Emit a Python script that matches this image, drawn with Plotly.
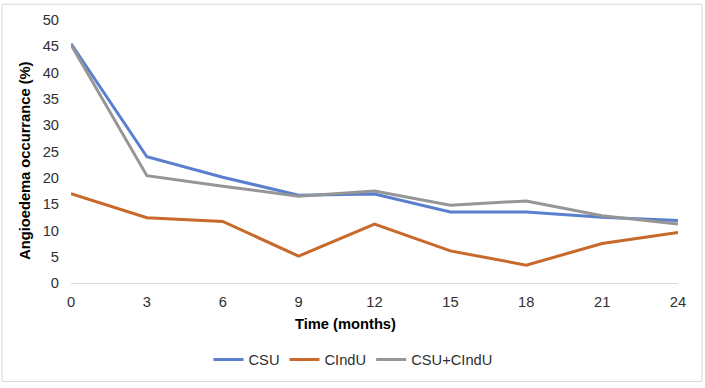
import plotly.graph_objects as go

months = [0, 3, 6, 9, 12, 15, 18, 21, 24]
csu = [45.5, 24.0, 20.1, 16.7, 16.9, 13.5, 13.5, 12.5, 11.9]
cindu = [17.0, 12.4, 11.7, 5.1, 11.2, 6.1, 3.4, 7.5, 9.6]
combined = [45.3, 20.4, 18.4, 16.5, 17.5, 14.8, 15.6, 12.8, 11.2]
series_names = ["CSU", "CIndU", "CSU+CIndU"]
colors = ["#5B7FCF", "#C8692B", "#969696"]

W, H = 705, 388
L, R, T, B = 71, 678, 18, 285
pw, ph = R - L, B - T

def px(x):
    return (x - L) / pw

def py(y):
    return (B - y) / ph

FONT = "Liberation Sans, Arial, sans-serif"
FS = 14.7
TXT = "#303030"

fig = go.Figure()
for name, vals, c in zip(series_names, [csu, cindu, combined], colors):
    fig.add_trace(go.Scatter(x=months, y=vals, mode="lines", name=name,
                             line=dict(color=c, width=3)))

fig.update_layout(
    width=W, height=H,
    margin=dict(l=L, r=W - R, t=T, b=H - B),
    paper_bgcolor="white", plot_bgcolor="white",
    font=dict(family=FONT, size=FS, color=TXT),
    showlegend=True,
    legend=dict(orientation="h", x=px(353), xanchor="center",
                y=py(363), yanchor="middle", font=dict(size=FS, color=TXT),
                itemwidth=30, tracegroupgap=0),
    xaxis=dict(range=[0, 24], tickvals=months, ticktext=[str(m) for m in months],
               showgrid=False, zeroline=False, showline=True,
               linecolor="#d9d9d9", linewidth=1, ticks="", ticklabelstandoff=5),
    yaxis=dict(range=[0, 50], tickvals=list(range(0, 51, 5)),
               showgrid=False, zeroline=False, showline=False,
               ticks="", ticklabelstandoff=11),
    shapes=[dict(type="rect", xref="paper", yref="paper",
                 x0=px(2), x1=px(702), y0=py(385), y1=py(2),
                 line=dict(color="#d9d9d9", width=1), layer="below")],
    annotations=[
        dict(text="<b>Time (months)</b>", xref="paper", yref="paper",
             x=px(345), y=py(327), xanchor="center", yanchor="middle",
             showarrow=False, font=dict(size=FS, color="#000000")),
        dict(text="<b>Angioedema occurrance (%)</b>", xref="paper", yref="paper",
             x=px(25), y=py(161), xanchor="center", yanchor="middle",
             textangle=-90, showarrow=False, font=dict(size=FS, color="#000000")),
    ],
)

fig.write_html("out.html", config={"displayModeBar": False},
               post_script="document.body.style.margin='0';")
